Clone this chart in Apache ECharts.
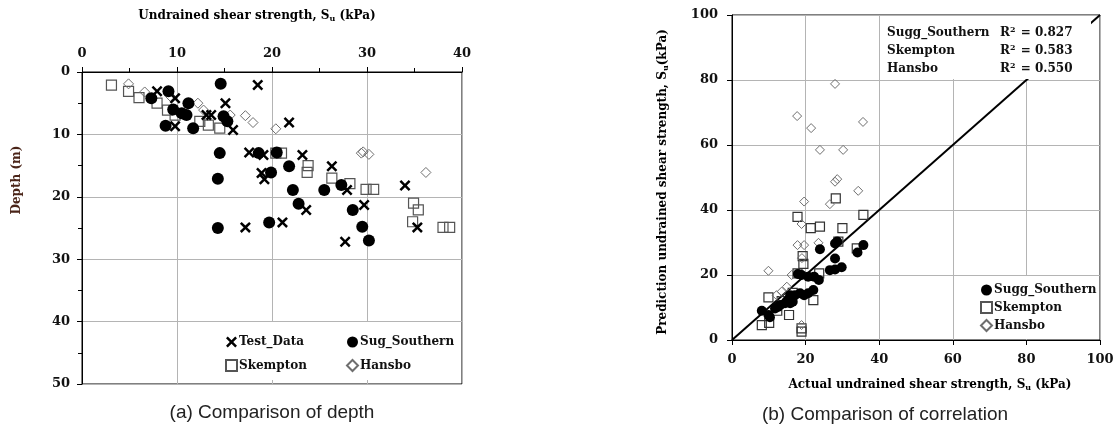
<!DOCTYPE html>
<html>
<head>
<meta charset="utf-8">
<script src="https://cdn.jsdelivr.net/npm/echarts@6.0.0/dist/echarts.min.js"></script>
<style>
html, body { margin: 0; padding: 0; background: #fff; }
#chart { width: 1119px; height: 430px; }
</style>
</head>
<body>
<div id="chart"></div>
<script>
// ---- (a) undrained shear strength vs depth: [Su (kPa), depth (m)] ----
const testData = [
  [7.9, 3.1], [9.8, 4.2], [18.5, 2.1], [15.1, 5.0], [13.1, 6.9], [13.6, 6.9],
  [15.9, 9.3], [9.8, 8.7], [21.8, 8.1], [17.6, 12.9], [19.1, 13.3], [23.2, 13.3],
  [18.9, 16.2], [19.2, 17.2], [26.3, 15.1], [27.9, 18.9], [34.0, 18.2], [23.6, 22.1],
  [29.7, 21.3], [35.3, 24.9], [21.1, 24.1], [17.2, 24.9], [27.7, 27.2]
];
const sugSouthernDepth = [
  [14.6, 1.9], [7.3, 4.2], [9.1, 3.1], [9.6, 6.0], [11.2, 5.0], [11.0, 6.9],
  [10.5, 6.6], [8.8, 8.6], [11.7, 9.0], [14.9, 7.1], [15.3, 7.9], [14.5, 13.0],
  [14.3, 17.1], [14.3, 25.0], [18.6, 13.0], [20.5, 12.9], [19.9, 16.1], [21.8, 15.1],
  [22.2, 18.9], [25.5, 18.9], [27.3, 18.1], [22.8, 21.1], [28.5, 22.1], [19.7, 24.1],
  [29.5, 24.8], [30.2, 27.0]
];
const skemptonDepth = [
  [3.1, 2.1], [4.9, 3.1], [6.0, 4.1], [7.9, 5.0], [9.0, 6.1], [9.8, 6.9],
  [12.4, 7.9], [13.3, 8.5], [14.5, 9.0], [20.4, 13.0], [21.0, 13.0], [23.8, 15.0],
  [23.7, 16.1], [26.3, 17.0], [28.2, 17.9], [29.9, 18.8], [30.7, 18.8], [34.9, 21.0],
  [35.4, 22.1], [34.8, 24.0], [38.0, 24.9], [38.7, 24.9]
];
const hansboDepth = [
  [4.9, 1.9], [6.6, 3.2], [9.3, 3.9], [12.2, 5.0], [12.8, 6.1], [15.6, 6.9],
  [17.2, 7.0], [18.0, 8.1], [20.4, 9.1], [29.4, 13.0], [29.6, 12.8], [30.2, 13.2],
  [36.2, 16.1]
];

// ---- (b) actual vs predicted Su: [actual (kPa), predicted (kPa)] ----
const sugSouthernPred = [
  [8.1, 9.0], [9.9, 7.7], [10.3, 7.0], [11.7, 9.7], [13.1, 10.8], [14.4, 11.3],
  [15.8, 11.3], [16.5, 11.8], [15.8, 13.8], [17.1, 13.8], [18.5, 14.4], [19.6, 13.8],
  [20.7, 14.4], [22.1, 15.4], [17.9, 20.3], [18.9, 20.0], [20.7, 19.5], [22.3, 19.5],
  [23.6, 18.5], [23.9, 27.9], [26.6, 21.5], [28.0, 21.7], [29.8, 22.4], [28.0, 25.1],
  [28.0, 29.7], [28.6, 30.3], [34.1, 26.9], [35.7, 29.2], [12.5, 10.2], [14.9, 12.0]
];
const skemptonPred = [
  [8.1, 4.6], [10.1, 5.3], [9.9, 13.1], [12.3, 9.0], [15.5, 7.7], [18.9, 2.6],
  [18.9, 3.6], [22.1, 12.3], [17.8, 37.9], [19.4, 23.4], [19.2, 25.8], [21.4, 34.4],
  [23.9, 34.9], [28.2, 43.6], [30.0, 34.4], [35.7, 38.5], [28.9, 30.3], [23.7, 20.5],
  [17.8, 20.5], [33.9, 28.2], [13.5, 12.0], [16.5, 14.5]
];
const hansboPred = [
  [9.9, 21.3], [19.6, 42.6], [18.9, 35.7], [17.8, 29.2], [19.6, 29.2], [23.5, 29.9],
  [26.6, 41.8], [28.0, 48.7], [28.6, 49.5], [34.3, 45.9], [18.9, 4.6], [16.2, 20.0],
  [12.1, 13.8], [13.5, 14.9], [14.9, 16.4], [17.7, 68.9], [21.5, 65.2], [28.0, 78.8],
  [35.6, 67.1], [30.2, 58.5], [23.9, 58.5], [19.0, 25.2]
];
const oneToOne = [[0, 0], [100, 100]];

// correlation summary
const r2Names = ['Sugg_Southern', 'Skempton', 'Hansbo'];
const r2Values = ['0.827', '0.583', '0.550'];

// axis ranges
const suRange = [0, 40, 10];
const depthRange = [0, 50, 10];
const corrRange = [0, 100, 20];

const SERIF = '"DejaVu Serif", "Liberation Serif", serif';
const SANS = '"Liberation Sans", Arial, sans-serif';
const INK = '#111';
const GRID_GRAY = '#b4b4b4';
const CROSS = 'path://M0,1.6 L1.6,0 L5,3.4 L8.4,0 L10,1.6 L6.6,5 L10,8.4 L8.4,10 L5,6.6 L1.6,10 L0,8.4 L3.4,5 Z';

const tickLabel = { fontFamily: SERIF, fontWeight: 'bold', fontSize: 13, color: INK };
const subRich = {
  t: { fontFamily: SERIF, fontWeight: 'bold', fontSize: 12, color: INK },
  s: { fontFamily: SERIF, fontWeight: 'bold', fontSize: 8, color: INK, padding: [6, 0, 0, 0] }
};

function valueAxis(range, extra) {
  return Object.assign({
    type: 'value', min: range[0], max: range[1], interval: range[2],
    axisLine: { show: true, onZero: false, lineStyle: { color: '#000', width: 1 } },
    axisTick: { show: true, length: 5, lineStyle: { color: '#000' } },
    axisLabel: Object.assign({ margin: 12 }, tickLabel),
    splitLine: { show: true, lineStyle: { color: GRID_GRAY, width: 1 } }
  }, extra || {});
}

const chart = echarts.init(document.getElementById('chart'), null, { renderer: 'canvas' });

const solid = (c) => ({ color: c, opacity: 1 });
const hollow = (c, w) => ({ color: 'rgba(255,255,255,0)', borderColor: c, borderWidth: w, opacity: 1 });

const option = {
  backgroundColor: '#fff',
  animation: false,
  grid: [
    { left: 82, top: 72, width: 380, height: 312, show: true, borderColor: '#000', borderWidth: 1, backgroundColor: 'transparent' },
    { left: 732, top: 15, width: 368, height: 325, show: true, borderColor: '#000', borderWidth: 1, backgroundColor: 'transparent' }
  ],
  xAxis: [
    valueAxis(suRange, { gridIndex: 0, position: 'top',
      minorTick: { show: true, splitNumber: 2, length: 4, lineStyle: { color: '#000' } } }),
    valueAxis(corrRange, { gridIndex: 1, position: 'bottom',
      axisLabel: Object.assign({ margin: 13 }, tickLabel) })
  ],
  yAxis: [
    valueAxis(depthRange, { gridIndex: 0, inverse: true,
      minorTick: { show: true, splitNumber: 2, length: 4, lineStyle: { color: '#000' } } }),
    valueAxis(corrRange, { gridIndex: 1,
      axisLabel: Object.assign({ margin: 14 }, tickLabel) })
  ],
  legend: [
    {
      orient: 'vertical', left: 220, top: 331, itemGap: 11, itemWidth: 11, itemHeight: 11,
      data: ['Test_Data', 'Skempton'],
      textStyle: { fontFamily: SERIF, fontWeight: 'bold', fontSize: 12, color: INK, padding: [0, 0, 0, -3] },
      selectedMode: false
    },
    {
      orient: 'vertical', left: 341, top: 331, itemGap: 11, itemWidth: 11, itemHeight: 11,
      data: ['Sug_Southern', 'Hansbo'],
      textStyle: { fontFamily: SERIF, fontWeight: 'bold', fontSize: 12, color: INK, padding: [0, 0, 0, -3] },
      selectedMode: false
    },
    {
      orient: 'vertical', left: 975, top: 279, itemGap: 5, itemWidth: 11, itemHeight: 11,
      data: ['Sugg_Southern', 'Skempton', 'Hansbo'],
      textStyle: { fontFamily: SERIF, fontWeight: 'bold', fontSize: 12, color: INK, padding: [0, 0, 0, -3] },
      selectedMode: false
    }
  ],
  series: [
    { name: 'Test_Data', type: 'scatter', xAxisIndex: 0, yAxisIndex: 0, data: testData,
      symbol: CROSS, symbolSize: 11, itemStyle: solid('#000'), z: 5 },
    { name: 'Sug_Southern', type: 'scatter', xAxisIndex: 0, yAxisIndex: 0, data: sugSouthernDepth,
      symbol: 'circle', symbolSize: 12, itemStyle: solid('#000'), z: 4 },
    { name: 'Skempton', type: 'scatter', xAxisIndex: 0, yAxisIndex: 0, data: skemptonDepth,
      symbol: 'rect', symbolSize: 10, itemStyle: hollow('#555', 1.2), z: 3 },
    { name: 'Hansbo', type: 'scatter', xAxisIndex: 0, yAxisIndex: 0, data: hansboDepth,
      symbol: 'diamond', symbolSize: 10, itemStyle: hollow('#6e6e6e', 1), z: 3 },

    { name: '1:1', type: 'line', xAxisIndex: 1, yAxisIndex: 1, data: oneToOne,
      showSymbol: false, symbol: 'none', lineStyle: { color: '#000', width: 2, opacity: 1 }, z: 2 },
    { name: 'Sugg_Southern', type: 'scatter', xAxisIndex: 1, yAxisIndex: 1, data: sugSouthernPred,
      symbol: 'circle', symbolSize: 10, itemStyle: solid('#000'), z: 5 },
    { name: 'Skempton', type: 'scatter', xAxisIndex: 1, yAxisIndex: 1, data: skemptonPred,
      symbol: 'rect', symbolSize: 9, itemStyle: hollow('#333', 1.2), z: 4 },
    { name: 'Hansbo', type: 'scatter', xAxisIndex: 1, yAxisIndex: 1, data: hansboPred,
      symbol: 'diamond', symbolSize: 9, itemStyle: hollow('#6e6e6e', 1), z: 4 }
  ],
  graphic: [
    // legend backdrops
    { type: 'rect', z: 1, shape: { x: 206, y: 322, width: 255, height: 58 }, style: { fill: '#fff' } },
    { type: 'rect', z: 1, shape: { x: 968, y: 276, width: 131, height: 63 }, style: { fill: '#fff' } },
    // correlation summary box (sits over the 1:1 line)
    { type: 'rect', z: 10, shape: { x: 880, y: 16, width: 211, height: 63 }, style: { fill: '#fff' } },
    ...r2Names.map((n, i) => ({
      type: 'text', z: 11, x: 887, y: 33 + i * 18,
      style: { text: n, fontFamily: SERIF, fontWeight: 'bold', fontSize: 12, fill: INK,
        textAlign: 'left', textVerticalAlign: 'middle' }
    })),
    ...r2Values.map((v, i) => ({
      type: 'text', z: 11, x: 1000, y: 33 + i * 18,
      style: {
        text: '{t|R}{s|2}{t| = ' + v + '}',
        textAlign: 'left', textVerticalAlign: 'middle',
        rich: {
          t: { fontFamily: SERIF, fontWeight: 'bold', fontSize: 12, fill: INK, color: INK },
          s: { fontFamily: SERIF, fontWeight: 'bold', fontSize: 8, fill: INK, color: INK, padding: [0, 1, 6, 0] }
        }
      }
    })),
    // axis titles
    { type: 'text', z: 5, x: 257, y: 16,
      style: { text: '{t|Undrained shear strength, S}{s|u}{t| (kPa)}', rich: subRich,
        textAlign: 'center', textVerticalAlign: 'middle' } },
    { type: 'text', z: 5, x: 17, y: 180, rotation: Math.PI / 2,
      style: { text: 'Depth (m)', fontFamily: SERIF, fontWeight: 'bold', fontSize: 12, fill: '#4a2418',
        textAlign: 'center', textVerticalAlign: 'middle' } },
    { type: 'text', z: 5, x: 663, y: 182, rotation: Math.PI / 2,
      style: { text: '{t|Prediction undrained shear strength, S}{s|u}{t|(kPa)}', rich: subRich,
        textAlign: 'center', textVerticalAlign: 'middle' } },
    { type: 'text', z: 5, x: 930, y: 385,
      style: { text: '{t|Actual undrained shear strength, S}{s|u}{t| (kPa)}', rich: subRich,
        textAlign: 'center', textVerticalAlign: 'middle' } },
    // panel captions
    { type: 'text', z: 5, x: 272, y: 413,
      style: { text: '(a) Comparison of depth', fontFamily: SANS, fontSize: 19, fill: '#222',
        textAlign: 'center', textVerticalAlign: 'middle' } },
    { type: 'text', z: 5, x: 885, y: 415,
      style: { text: '(b) Comparison of correlation', fontFamily: SANS, fontSize: 19, fill: '#222',
        textAlign: 'center', textVerticalAlign: 'middle' } }
  ]
};

chart.setOption(option);
</script>
</body>
</html>
